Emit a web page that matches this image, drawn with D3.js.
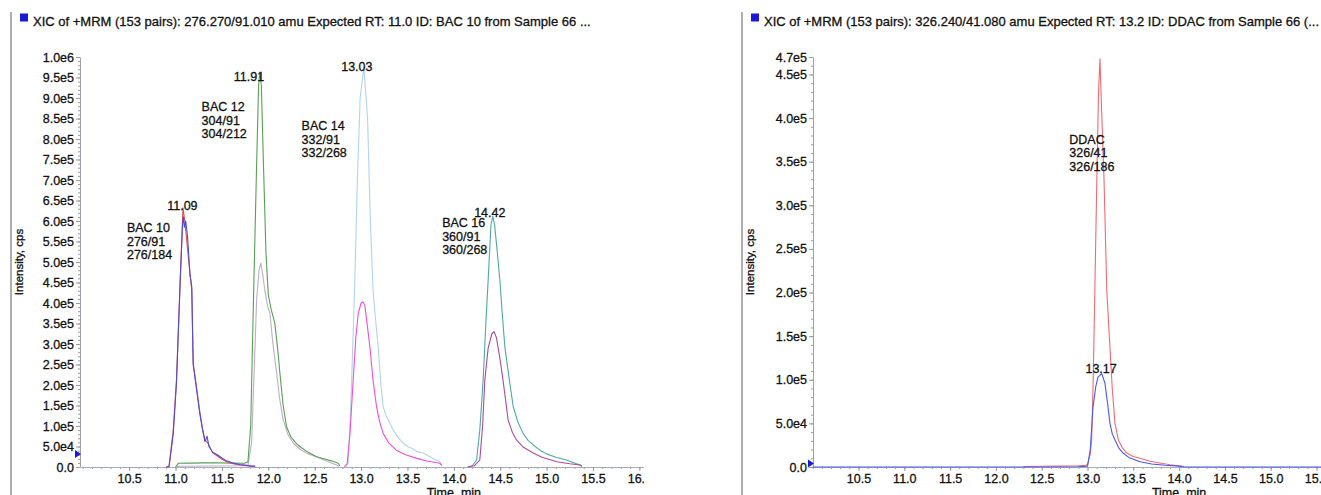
<!DOCTYPE html>
<html>
<head>
<meta charset="utf-8">
<script src="https://cdn.jsdelivr.net/npm/d3@7"></script>
<style>
  html, body { margin: 0; padding: 0; background: #fff; }
  svg { display: block; font-family: "Liberation Sans", Arial, sans-serif; }
  svg text { stroke: #111; stroke-width: 0.3px; }
</style>
</head>
<body>
<svg id="chart" width="1321" height="495"></svg>
<script>
// [time (min), intensity (cps)]
const bac10_276_91 = [[10.90,0],[10.93,1500],[10.975,90000],[11.01,212000],[11.05,456000],[11.08,632000],[11.10,600000],[11.12,554000],[11.155,473000],[11.175,431000],[11.19,254000],[11.22,205000],[11.263,132000],[11.29,95000],[11.317,66000],[11.35,58000],[11.38,44000],[11.403,34000],[11.45,27000],[11.50,19000],[11.55,13000],[11.62,8000],[11.694,5000],[11.75,3500],[11.80,2000],[11.85,1500]];
const bac10_276_184 = [[10.90,0],[10.93,1200],[10.975,80000],[11.01,205000],[11.05,450000],[11.075,590000],[11.085,610000],[11.095,585000],[11.11,600000],[11.13,560000],[11.155,470000],[11.175,440000],[11.19,250000],[11.22,200000],[11.263,128000],[11.29,92000],[11.317,62000],[11.34,75000],[11.36,50000],[11.40,36000],[11.45,30000],[11.50,22000],[11.55,15000],[11.62,9500],[11.694,6000],[11.75,4500],[11.80,3000],[11.86,1500]];
const bac12_304_91 = [[11.00,0],[11.03,9000],[11.15,9500],[11.30,10000],[11.45,10500],[11.60,9500],[11.74,9000],[11.78,12000],[11.81,100000],[11.84,407000],[11.87,700000],[11.895,930000],[11.91,963000],[11.925,930000],[11.95,720000],[11.975,520000],[12.00,420000],[12.03,385000],[12.07,351000],[12.10,290000],[12.125,229000],[12.16,150000],[12.197,98000],[12.24,75000],[12.29,60000],[12.34,50000],[12.42,37000],[12.52,25000],[12.60,20000],[12.68,15000],[12.753,9000],[12.77,3000]];
const bac12_304_212 = [[11.00,0],[11.03,2000],[11.40,2500],[11.78,3000],[11.82,60000],[11.85,250000],[11.874,407000],[11.90,480000],[11.92,497000],[11.94,470000],[11.963,430000],[11.99,395000],[12.017,375000],[12.05,300000],[12.09,229000],[12.12,170000],[12.16,115000],[12.21,80000],[12.27,58000],[12.35,42000],[12.43,32000],[12.52,25000],[12.60,17000],[12.68,10000],[12.736,5000],[12.76,2000]];
const bac14_332_91 = [[12.84,0],[12.86,10000],[12.89,150000],[12.933,456000],[12.96,700000],[12.99,900000],[13.03,975000],[13.07,850000],[13.10,600000],[13.13,430000],[13.16,350000],[13.185,293000],[13.21,210000],[13.238,147000],[13.27,125000],[13.31,107000],[13.36,85000],[13.40,72000],[13.454,58000],[13.50,50000],[13.55,45000],[13.60,38000],[13.67,34000],[13.72,28000],[13.78,20000],[13.85,13000],[13.87,5000]];
const bac14_332_268 = [[12.82,0],[12.85,8000],[12.88,80000],[12.915,212000],[12.945,320000],[12.97,375000],[13.00,400000],[13.02,403000],[13.04,395000],[13.07,340000],[13.095,293000],[13.13,210000],[13.167,147000],[13.20,110000],[13.238,82000],[13.30,58000],[13.38,41000],[13.48,30000],[13.60,21000],[13.72,14000],[13.85,9000],[13.87,3000]];
const bac16_360_91 = [[14.15,0],[14.20,3000],[14.245,17000],[14.28,90000],[14.316,212000],[14.345,350000],[14.37,456000],[14.40,590000],[14.42,612000],[14.44,590000],[14.47,520000],[14.496,456000],[14.52,380000],[14.55,293000],[14.60,210000],[14.64,147000],[14.69,110000],[14.747,82000],[14.80,65000],[14.85,55000],[14.927,41000],[15.00,32000],[15.10,24000],[15.214,17000],[15.30,10000],[15.36,5000],[15.38,2000]];
const bac16_360_268 = [[14.15,0],[14.22,3000],[14.28,17000],[14.31,100000],[14.334,212000],[14.37,290000],[14.41,325000],[14.434,330000],[14.46,315000],[14.50,260000],[14.53,212000],[14.56,160000],[14.585,115000],[14.63,85000],[14.675,66000],[14.75,48000],[14.855,34000],[14.95,24000],[15.11,13000],[15.25,8000],[15.36,5000],[15.38,2000]];
const ddac_326_41 = [[12.30,500],[12.50,800],[12.70,1000],[12.90,1500],[12.98,2000],[13.00,3000],[13.03,15000],[13.045,31000],[13.06,90000],[13.07,146000],[13.08,203000],[13.10,320000],[13.12,430000],[13.136,468000],[13.15,420000],[13.18,330000],[13.21,203000],[13.24,146000],[13.27,90000],[13.30,50000],[13.336,31000],[13.38,22000],[13.428,16000],[13.50,12000],[13.573,10000],[13.68,6500],[13.79,4600],[13.90,2500],[14.01,1200],[14.05,800]];
const ddac_326_186 = [[10.00,0],[12.30,0],[12.90,300],[13.00,1000],[13.03,20000],[13.06,69000],[13.09,92000],[13.114,103000],[13.155,107000],[13.19,96000],[13.22,72000],[13.245,50000],[13.27,38000],[13.30,31000],[13.34,22000],[13.387,16000],[13.45,11000],[13.573,6000],[13.70,3500],[13.85,2000],[14.00,1000],[14.05,0],[16.00,0]];

const timeTicks = [10.5, 11.0, 11.5, 12.0, 12.5, 13.0, 13.5, 14.0, 14.5, 15.0, 15.5, 16.0];
const leftIntensityTicks = [0,5e4,1e5,1.5e5,2e5,2.5e5,3e5,3.5e5,4e5,4.5e5,5e5,5.5e5,6e5,6.5e5,7e5,7.5e5,8e5,8.5e5,9e5,9.5e5,1e6];
const rightIntensityTicks = [0,5e4,1e5,1.5e5,2e5,2.5e5,3e5,3.5e5,4e5,4.5e5,4.7e5];

const leftTitle = "XIC of +MRM (153 pairs): 276.270/91.010 amu Expected RT: 11.0 ID: BAC 10 from Sample 66 ...";
const rightTitle = "XIC of +MRM (153 pairs): 326.240/41.080 amu Expected RT: 13.2 ID: DDAC from Sample 66 (...";

const leftPeaks = [{t: 11.09, v: 632000, text: "11.09"}, {t: 11.91, v: 963000, text: "11.91"}, {t: 13.03, v: 975000, text: "13.03"}, {t: 14.42, v: 612000, text: "14.42"}];
const rightPeaks = [{t: 13.17, v: 107000, text: "13.17"}];
const leftCompounds = [
  {t: 10.476, v: 572000, lines: ["BAC 10", "276/91", "276/184"]},
  {t: 11.281, v: 868000, lines: ["BAC 12", "304/91", "304/212"]},
  {t: 12.359, v: 821000, lines: ["BAC 14", "332/91", "332/268"]},
  {t: 13.874, v: 585000, lines: ["BAC 16", "360/91", "360/268"]}
];
const rightCompounds = [{t: 12.801, v: 370500, lines: ["DDAC", "326/41", "326/186"]}];
const leftMarker = 32000, rightMarker = 4000;

const svg = d3.select('#chart');
svg.append('rect').attr('width', 1321).attr('height', 495).attr('fill', '#fff');

const fmtI = v => v === 0 ? '0.0' : d3.format('.1e')(v).replace('e+', 'e');
// nudges so the apex labels sit where the instrument software put them
const peakNudge = {'11.09': [-1.5, 2], '11.91': [-11, 9], '13.03': [-7, 4], '14.42': [-3, 1], '13.17': [-2, -1]};

function panel(o) {
  const g = svg.append('g');
  if (o.clipW) {
    svg.append('clipPath').attr('id', o.id + '-clip').append('rect')
      .attr('x', o.border - 2).attr('y', 0).attr('width', o.clipW).attr('height', 495);
    g.attr('clip-path', `url(#${o.id}-clip)`);
  }
  const x = d3.scaleLinear().domain(o.tDomain).range(o.xRange);
  const y = d3.scaleLinear().domain([0, o.yMax]).range([467, 57]);

  // frame line and title
  g.append('line').attr('x1', o.border).attr('x2', o.border).attr('y1', 12).attr('y2', 495)
    .attr('stroke', '#9a9a9a').attr('stroke-width', 1.6);
  g.append('rect').attr('x', o.border + 9).attr('y', 13.5).attr('width', 8).attr('height', 8).attr('fill', '#1a1ad6');
  g.append('text').attr('x', o.border + 22).attr('y', 26).attr('font-size', 13).attr('fill', '#111').text(o.title);

  // y axis: labelled majors + small minors
  const yMinor = d3.axisLeft(y).tickValues(d3.range(0, o.yMax + 1, 1e4)).tickSize(2).tickFormat('');
  g.append('g').attr('transform', `translate(${o.xRange[0]},0)`).call(yMinor)
    .call(a => a.select('.domain').remove())
    .selectAll('line').attr('stroke', '#9a9a9a');
  const yAx = d3.axisLeft(y).tickValues(o.yTicks).tickFormat(fmtI).tickSize(4).tickSizeOuter(0).tickPadding(2);
  const ya = g.append('g').attr('transform', `translate(${o.xRange[0]},0)`).call(yAx);
  ya.select('.domain').attr('stroke', '#a0a0a8');
  ya.selectAll('line').attr('stroke', '#9a9a9a');
  ya.selectAll('text').attr('font-size', 12.5).attr('fill', '#111').attr('font-family', null);

  // x axis
  const xMinor = d3.axisBottom(x).tickValues(d3.range(10.0, 16.05, 0.1)).tickSize(2).tickFormat('');
  g.append('g').attr('transform', 'translate(0,467)').call(xMinor)
    .call(a => a.select('.domain').remove())
    .selectAll('line').attr('stroke', '#9a9a9a');
  const xAx = d3.axisBottom(x).tickValues(timeTicks).tickFormat(d3.format('.1f')).tickSize(4).tickSizeOuter(0).tickPadding(3);
  const xa = g.append('g').attr('transform', 'translate(0,467)').call(xAx);
  xa.select('.domain').attr('stroke', '#a8acc0');
  xa.selectAll('line').attr('stroke', '#9a9a9a');
  xa.selectAll('text').attr('font-size', 12.5).attr('fill', '#111').attr('font-family', null);

  g.append('text').attr('transform', `translate(${o.border + 12},262) rotate(-90)`)
    .attr('text-anchor', 'middle').attr('font-size', 11.5).attr('fill', '#111').text('Intensity, cps');
  g.append('text').attr('x', x(14.0)).attr('y', 497).attr('text-anchor', 'middle')
    .attr('font-size', 12.5).attr('fill', '#111').text('Time, min');

  // traces
  const line = d3.line().x(d => x(d[0])).y(d => y(d[1]));
  o.traces.forEach(tr => {
    g.append('path').datum(tr.data).attr('d', line).attr('fill', 'none')
      .attr('stroke', tr.color).attr('stroke-width', 1.1).attr('stroke-linejoin', 'round');
  });

  // threshold marker on the y axis
  const my = y(o.marker), mx = o.xRange[0];
  g.append('path').attr('d', `M${mx - 5},${my - 4}L${mx + 1},${my}L${mx - 5},${my + 4}Z`).attr('fill', '#1a1ad6');

  // apex labels
  o.peaks.forEach(p => {
    const n = peakNudge[p.text] || [0, 0];
    g.append('text').attr('x', x(p.t) + n[0]).attr('y', y(p.v) + n[1]).attr('text-anchor', 'middle')
      .attr('font-size', 12.5).attr('fill', '#111').text(p.text);
  });
  // compound / transition blocks
  o.compounds.forEach(c => {
    const t = g.append('text').attr('x', x(c.t)).attr('y', y(c.v)).attr('font-size', 12.5).attr('fill', '#111');
    c.lines.forEach((s, i) => t.append('tspan').attr('x', x(c.t)).attr('dy', i ? 13.4 : 0).text(s));
  });
}

panel({
  id: 'left', border: 11, clipW: 635, title: leftTitle,
  tDomain: [9.97, 16.05], xRange: [80, 644], yMax: 1e6, yTicks: leftIntensityTicks,
  traces: [
    {data: bac12_304_212, color: '#bcaec6'},
    {data: bac12_304_91, color: '#5a9e58'},
    {data: bac14_332_91, color: '#b3d2ee'},
    {data: bac14_332_268, color: '#ee4fd2'},
    {data: bac16_360_91, color: '#4fa9a2'},
    {data: bac16_360_268, color: '#aa4aa0'},
    {data: bac10_276_91, color: '#e0505c'},
    {data: bac10_276_184, color: '#4c4cd6'}
  ],
  marker: leftMarker, peaks: leftPeaks, compounds: leftCompounds
});

panel({
  id: 'right', border: 742, clipW: 0, title: rightTitle,
  tDomain: [10.003, 15.7], xRange: [813, 813 + 5.697 * 91.6], yMax: 4.7e5, yTicks: rightIntensityTicks,
  traces: [
    {data: ddac_326_41, color: '#f06a74'},
    {data: ddac_326_186, color: '#4a5ae8'}
  ],
  marker: rightMarker, peaks: rightPeaks, compounds: rightCompounds
});
</script>
</body>
</html>
